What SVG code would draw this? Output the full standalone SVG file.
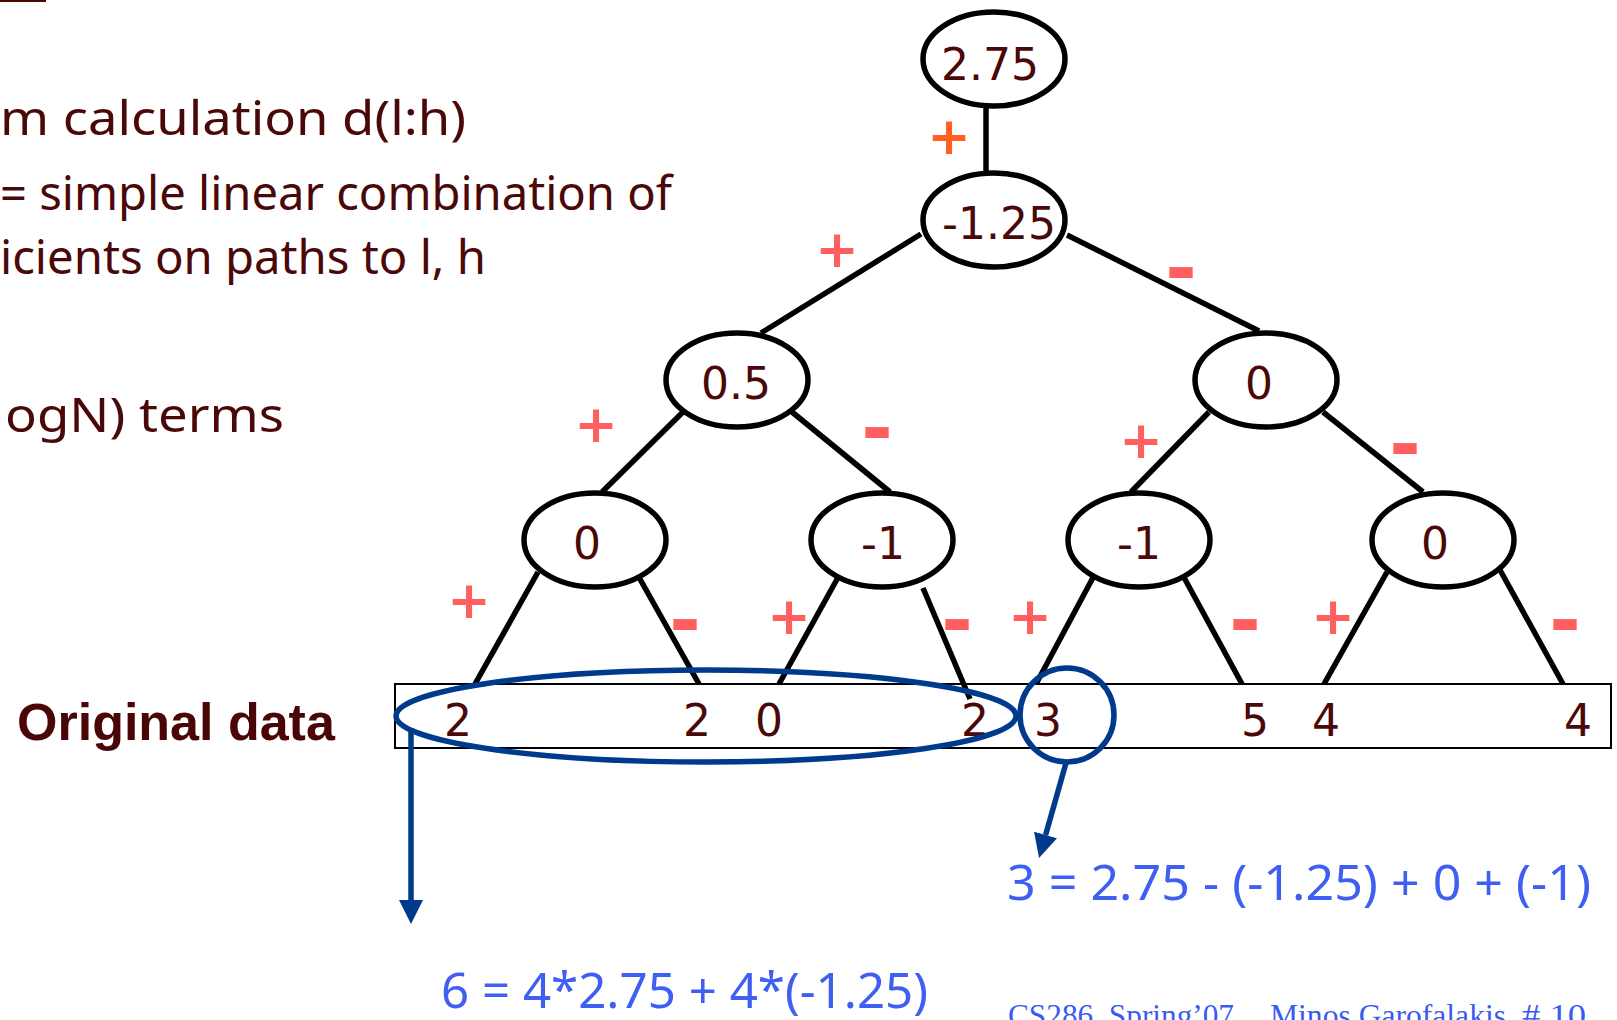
<svg xmlns="http://www.w3.org/2000/svg" width="1617" height="1020" viewBox="0 0 1617 1020">
<style>
.node{fill:#fff;stroke:#000;stroke-width:5.5}
.lbl{font-family:"DejaVu Sans",sans-serif;font-size:44px;fill:#4a0808;text-anchor:middle}
.edge{stroke:#000;stroke-width:5.5;fill:none}
.plus{font-family:"DejaVu Sans",sans-serif;font-weight:bold;font-size:52px;fill:#ff5f5f;text-anchor:middle}
.minus{font-family:"DejaVu Sans",sans-serif;font-weight:bold;font-size:76px;fill:#ff5f5f;text-anchor:middle}
.body{font-family:"Noto Sans",sans-serif;font-size:48px;fill:#4a0808}
.eq{font-family:"Noto Sans",sans-serif;font-size:50px;fill:#3f5ff2}
.blue{stroke:#003a8c;stroke-width:5.5;fill:none}
</style>
<defs>
<marker id="ah" viewBox="0 0 24 24" refX="0" refY="12" markerWidth="24" markerHeight="24" markerUnits="userSpaceOnUse" orient="auto">
<path d="M0,0 L24,12 L0,24 z" fill="#003a8c"/>
</marker>
</defs>
<rect x="0" y="0" width="46" height="2" fill="#4a0808"/>
<g id="left-text">
<text class="body" x="0" y="135" textLength="466" lengthAdjust="spacingAndGlyphs">m calculation d(l:h)</text>
<text class="body" x="0" y="210" textLength="672" lengthAdjust="spacingAndGlyphs">= simple linear combination  of</text>
<text class="body" x="0" y="274" textLength="486" lengthAdjust="spacingAndGlyphs">icients on paths to l, h</text>
<text class="body" x="5" y="432" textLength="279" lengthAdjust="spacingAndGlyphs">ogN) terms</text>
</g>
<g id="connectors">
<line class="edge" x1="986" y1="105" x2="986" y2="174"/>
<line class="edge" x1="921" y1="234" x2="761" y2="333"/>
<line class="edge" x1="1067" y1="235" x2="1259" y2="331"/>
<line class="edge" x1="683" y1="412" x2="602" y2="492"/>
<line class="edge" x1="792" y1="412" x2="890" y2="492"/>
<line class="edge" x1="1209" y1="412" x2="1131" y2="492"/>
<line class="edge" x1="1323" y1="412" x2="1423" y2="492"/>
<line class="edge" x1="538" y1="572" x2="475" y2="684"/>
<line class="edge" x1="636" y1="572" x2="699" y2="684"/>
<line class="edge" x1="841" y1="572" x2="779" y2="684"/>
<line class="edge" x1="923" y1="588" x2="970" y2="699"/>
<line class="edge" x1="1096" y1="572" x2="1036" y2="684"/>
<line class="edge" x1="1181" y1="572" x2="1242" y2="684"/>
<line class="edge" x1="1387" y1="572" x2="1324" y2="684"/>
<line class="edge" x1="1500" y1="570" x2="1563" y2="684"/>
</g>
<g id="signs">
<text class="plus" x="949" y="154" style="fill:#ff5f22">+</text>
<text class="plus" x="837" y="267">+</text>
<text class="minus" x="1181" y="295">-</text>
<text class="plus" x="596" y="442">+</text>
<text class="minus" x="877" y="455">-</text>
<text class="plus" x="1141" y="458">+</text>
<text class="minus" x="1405" y="471">-</text>
<text class="plus" x="469" y="618">+</text>
<text class="minus" x="685" y="647">-</text>
<text class="plus" x="789" y="634">+</text>
<text class="minus" x="957" y="647">-</text>
<text class="plus" x="1030" y="634">+</text>
<text class="minus" x="1245" y="647">-</text>
<text class="plus" x="1333" y="634">+</text>
<text class="minus" x="1565" y="647">-</text>
</g>
<g id="n-root"><ellipse class="node" cx="994" cy="59" rx="71" ry="47"/><text class="lbl" x="990" y="80">2.75</text></g>
<g id="n-m125"><ellipse class="node" cx="994" cy="220" rx="71" ry="47"/><text class="lbl" x="999" y="239">-1.25</text></g>
<g id="n-05"><ellipse class="node" cx="737" cy="380" rx="71" ry="47"/><text class="lbl" x="736" y="399">0.5</text></g>
<g id="n-0r"><ellipse class="node" cx="1266" cy="380" rx="71" ry="47"/><text class="lbl" x="1259" y="399">0</text></g>
<g id="n-0a"><ellipse class="node" cx="595" cy="540" rx="71" ry="47"/><text class="lbl" x="587" y="559">0</text></g>
<g id="n-m1a"><ellipse class="node" cx="882" cy="540" rx="71" ry="47"/><text class="lbl" x="883" y="559">-1</text></g>
<g id="n-m1b"><ellipse class="node" cx="1139" cy="540" rx="71" ry="47"/><text class="lbl" x="1139" y="559">-1</text></g>
<g id="n-0b"><ellipse class="node" cx="1443" cy="540" rx="71" ry="47"/><text class="lbl" x="1435" y="559">0</text></g>
<g id="data">
<text x="17" y="740" style="font-family:'Liberation Sans',Arial,sans-serif;font-weight:bold;font-size:52px;fill:#4a0606">Original data</text>
<rect x="395" y="684" width="1216" height="64" fill="none" stroke="#000" stroke-width="2"/>
<text class="lbl" x="458" y="736">2</text>
<text class="lbl" x="697" y="736">2</text>
<text class="lbl" x="769" y="736">0</text>
<text class="lbl" x="975" y="736">2</text>
<text class="lbl" x="1048" y="736">3</text>
<text class="lbl" x="1255" y="736">5</text>
<text class="lbl" x="1326" y="736">4</text>
<text class="lbl" x="1578" y="736">4</text>
</g>
<g id="highlights">
<ellipse class="blue" cx="706" cy="716" rx="310" ry="46"/>
<ellipse class="blue" cx="1067" cy="715" rx="47" ry="47"/>
<line class="blue" x1="411" y1="728" x2="411" y2="900" marker-end="url(#ah)" stroke-width="6"/>
<line class="blue" x1="1066" y1="763" x2="1045.6" y2="834.9" marker-end="url(#ah)" stroke-width="6"/>
</g>
<g id="equations">
<text class="eq" x="1007" y="900" textLength="584" lengthAdjust="spacingAndGlyphs">3 = 2.75 - (-1.25) + 0 + (-1)</text>
<text class="eq" x="441" y="1008" textLength="487" lengthAdjust="spacingAndGlyphs">6 = 4*2.75 + 4*(-1.25)</text>
</g>
<g id="footer" style="font-family:'Liberation Serif','Times New Roman',serif;font-size:31.5px;fill:#3a5bef">
<text x="1008" y="1026" textLength="226" lengthAdjust="spacingAndGlyphs">CS286, Spring’07</text>
<text x="1270" y="1026" textLength="236" lengthAdjust="spacingAndGlyphs">Minos Garofalakis</text>
<text x="1522" y="1026" textLength="64" lengthAdjust="spacingAndGlyphs"># 10</text>
</g>
</svg>
